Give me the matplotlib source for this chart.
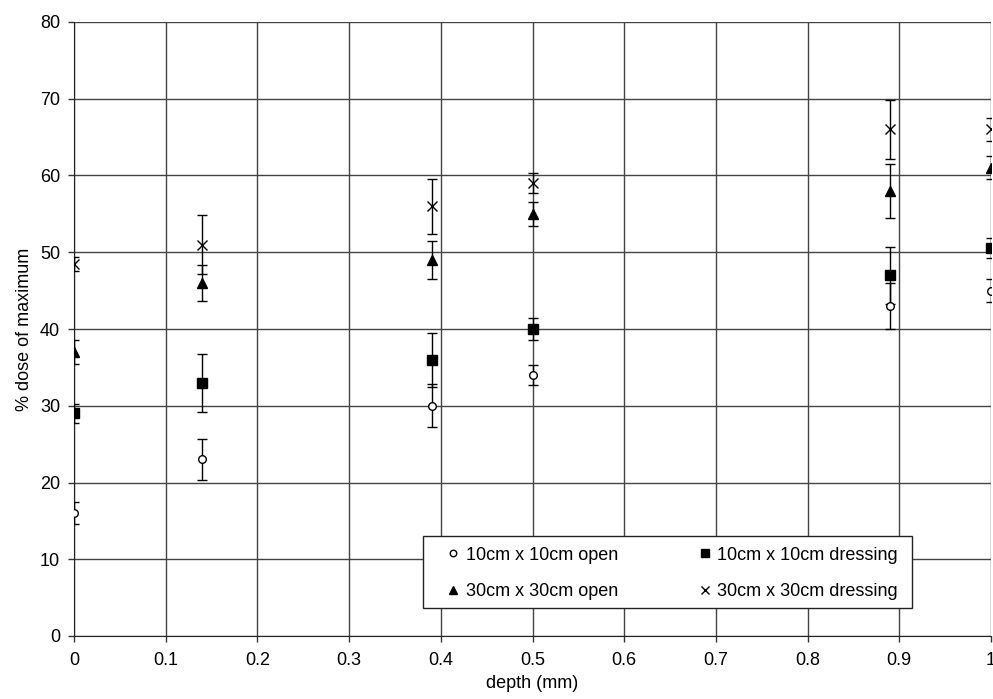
import matplotlib
matplotlib.use('Agg')
import matplotlib.pyplot as plt
import matplotlib.ticker as ticker
import matplotlib.patches as patches

plt.rcParams['font.family'] = ['Liberation Sans', 'DejaVu Sans']

depth = [0, 0.14, 0.39, 0.5, 0.89, 1.0]

open10 = [16, 23, 30, 34, 43, 45]
open10_err = [1.4, 2.7, 2.8, 1.3, 3.0, 1.5]

dress10 = [29, 33, 36, 40, 47, 50.5]
dress10_err = [1.2, 3.8, 3.5, 1.4, 3.7, 1.3]

open30 = [37, 46, 49, 55, 58, 61]
open30_err = [1.6, 2.4, 2.5, 1.6, 3.5, 1.5]

dress30 = [48.5, 51, 56, 59, 66, 66]
dress30_err = [0.9, 3.8, 3.6, 1.3, 3.9, 1.5]

W, H = 993, 699
fig = plt.figure(figsize=(W / 100, H / 100), dpi=100)
ax = fig.add_axes([74 / W, 63 / H, 917 / W, 614 / H])

series = [
    (open10, open10_err, 'o', 'white', 5.5, '10cm x 10cm open'),
    (dress10, dress10_err, 's', 'black', 6.5, '10cm x 10cm dressing'),
    (open30, open30_err, '^', 'black', 7, '30cm x 30cm open'),
    (dress30, dress30_err, 'x', 'black', 6.5, '30cm x 30cm dressing'),
]

handles = []
for vals, err, mk, fc, ms, lab in series:
    ax.errorbar(depth, vals, yerr=err, fmt='none', ecolor='black',
                elinewidth=1, capsize=3.5, capthick=1, zorder=3)
    h, = ax.plot(depth, vals, mk, ms=ms, mfc=fc, mec='black', mew=1,
                 ls='none', label=lab, zorder=4)
    handles.append(h)

ax.set_xlim(0, 1)
ax.set_ylim(0, 80)
ax.xaxis.set_major_locator(ticker.MultipleLocator(0.1))
ax.yaxis.set_major_locator(ticker.MultipleLocator(10))
ax.xaxis.set_major_formatter(ticker.FuncFormatter(lambda v, p: '%g' % round(v, 1)))
ax.grid(True, color='#444444', lw=1.0)
ax.set_axisbelow(True)
for s in ['top', 'right']:
    ax.spines[s].set_visible(False)
for s in ['left', 'bottom']:
    ax.spines[s].set_color('#222222')
ax.tick_params(labelsize=13, length=4, width=1, color='#333333')
ax.tick_params(axis='x', pad=7.5)
ax.tick_params(axis='y', pad=6)

ax.set_xlabel('depth (mm)', fontsize=13, labelpad=4)
ax.set_ylabel('% dose of maximum', fontsize=13, labelpad=5)

# legend box drawn by hand, entries placed inside it
box = patches.Rectangle((423 / W, 1 - 608 / H), 489 / W, 72 / H,
                        transform=fig.transFigure, fill=True, fc='white',
                        ec='#222222', lw=1.0, zorder=5)
fig.patches.append(box)

order = [handles[0], handles[2], handles[1], handles[3]]
leg = fig.legend(order, [h.get_label() for h in order], ncol=2,
                 loc='center left', bbox_to_anchor=(448 / W, 1 - 573.5 / H),
                 fontsize=13, frameon=False, handlelength=0.6,
                 handletextpad=0.39, columnspacing=4.5, labelspacing=1.08,
                 borderpad=0, borderaxespad=0, markerscale=0.85)
leg.set_zorder(6)

fig.savefig('out.png', dpi=100)
